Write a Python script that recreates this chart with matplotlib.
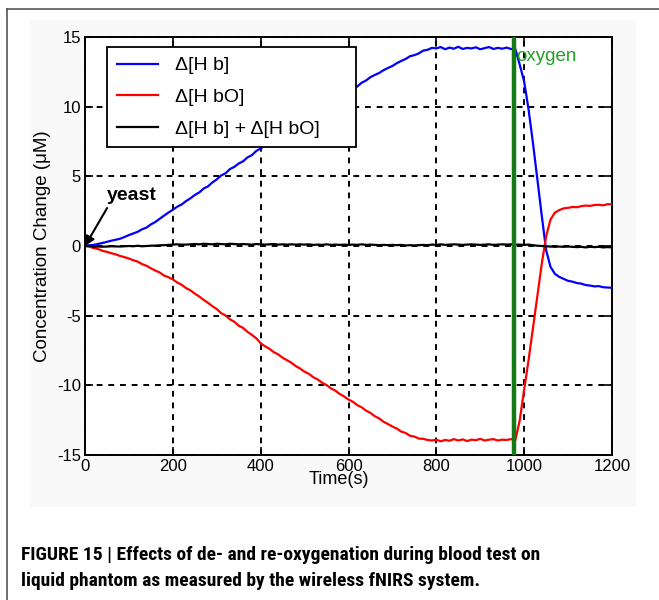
import matplotlib
matplotlib.use("Agg")
import matplotlib.pyplot as plt
from matplotlib.patches import Rectangle
from matplotlib.lines import Line2D

plt.rcParams['font.family'] = ['Liberation Sans', 'DejaVu Sans']
plt.rcParams['axes.unicode_minus'] = False

# ---------------- data ----------------
time_s = list(range(0, 1201, 10))

hb = [0.0, 0.05, 0.08, 0.15, 0.22, 0.3, 0.38, 0.45, 0.52, 0.65,
      0.78, 0.9, 1.02, 1.2, 1.32, 1.55, 1.72, 1.95, 2.18, 2.4,
      2.6, 2.82, 2.98, 3.22, 3.42, 3.66, 3.84, 4.12, 4.28, 4.56,
      4.78, 5.06, 5.22, 5.52, 5.68, 5.92, 6.08, 6.36, 6.52, 6.82,
      7.0, 7.22, 7.38, 7.62, 7.78, 8.02, 8.18, 8.42, 8.58, 8.82,
      9.0, 9.22, 9.38, 9.62, 9.78, 10.02, 10.18, 10.42, 10.58, 10.82,
      11.0, 11.22, 11.45, 11.72, 11.88, 12.12, 12.28, 12.42, 12.62, 12.78,
      12.92, 13.12, 13.28, 13.42, 13.62, 13.7, 13.82, 14.02, 14.08, 14.22,
      14.18, 14.28, 14.12, 14.24, 14.16, 14.3, 14.14, 14.22, 14.18, 14.26,
      14.12, 14.2, 14.28, 14.14, 14.22, 14.16, 14.24, 14.14, 14.12, 13.0,
      11.8, 9.8, 7.4, 4.8, 2.2, -0.3, -1.5, -2.0, -2.22, -2.36,
      -2.5, -2.56, -2.66, -2.7, -2.8, -2.84, -2.9, -2.88, -2.96, -2.98,
      -3.0]

hbo = [0.0, -0.05, -0.15, -0.22, -0.35, -0.42, -0.52, -0.6, -0.72, -0.8,
       -0.9, -1.02, -1.12, -1.3, -1.42, -1.6, -1.76, -1.9, -2.12, -2.24,
       -2.4, -2.62, -2.78, -3.02, -3.18, -3.42, -3.62, -3.86, -4.08, -4.32,
       -4.52, -4.82, -4.98, -5.26, -5.44, -5.72, -5.88, -6.16, -6.38, -6.62,
       -6.98, -7.2, -7.38, -7.62, -7.78, -8.02, -8.2, -8.38, -8.62, -8.8,
       -9.02, -9.18, -9.42, -9.58, -9.82, -9.98, -10.22, -10.38, -10.62, -10.8,
       -11.02, -11.18, -11.42, -11.58, -11.82, -11.98, -12.22, -12.38, -12.62, -12.78,
       -12.96, -13.1, -13.32, -13.42, -13.62, -13.68, -13.82, -13.84, -13.92, -13.96,
       -13.9, -14.02, -13.92, -13.98, -13.86, -13.96, -13.88, -14.0, -13.9, -13.94,
       -13.84, -13.96, -13.9, -13.86, -13.96, -13.9, -13.92, -13.86, -13.92, -12.5,
       -10.3, -8.2, -5.9, -3.6, -1.3, 0.7, 1.9, 2.4, 2.58, 2.7,
       2.74, 2.8, 2.78, 2.86, 2.9, 2.88, 2.94, 2.96, 2.92, 3.0,
       3.0]

hb_plus_hbo = [0.0, 0.0, -0.05, -0.04, -0.05, -0.04, -0.02, -0.03, -0.04, -0.02,
               0.0, -0.02, 0.02, -0.02, 0.0, 0.02, 0.03, 0.05, 0.06, 0.08,
               0.1, 0.12, 0.1, 0.1, 0.12, 0.14, 0.12, 0.16, 0.14, 0.12,
               0.16, 0.14, 0.12, 0.16, 0.14, 0.12, 0.14, 0.12, 0.1, 0.14,
               0.12, 0.1, 0.12, 0.14, 0.1, 0.12, 0.1, 0.12, 0.1, 0.12,
               0.1, 0.12, 0.08, 0.1, 0.08, 0.12, 0.08, 0.1, 0.08, 0.1,
               0.08, 0.1, 0.08, 0.12, 0.08, 0.1, 0.08, 0.06, 0.08, 0.06,
               0.08, 0.06, 0.08, 0.04, 0.06, 0.04, 0.06, 0.08, 0.06, 0.1,
               0.08, 0.12, 0.08, 0.1, 0.12, 0.1, 0.08, 0.1, 0.12, 0.1,
               0.08, 0.1, 0.12, 0.08, 0.1, 0.12, 0.1, 0.12, 0.1, 0.1,
               0.08, 0.1, 0.06, 0.02, 0.0, -0.02, -0.04, -0.06, -0.04, -0.06,
               -0.04, -0.06, -0.08, -0.06, -0.1, -0.06, -0.08, -0.06, -0.1, -0.08,
               -0.1]

oxygen_time = 977
yeast_time = 0
x_ticks = [0, 200, 400, 600, 800, 1000, 1200]
y_ticks = [-15, -10, -5, 0, 5, 10, 15]
series_labels = ['Δ[H b]', 'Δ[H bO]', 'Δ[H b] + Δ[H bO]']
caption_line1 = 'FIGURE 15 | Effects of de- and re-oxygenation during blood test on'
caption_line2 = 'liquid phantom as measured by the wireless fNIRS system.'

# ---------------- figure ----------------
fig = plt.figure(figsize=(6.59, 6.00), dpi=100)
W, H = 659, 600

# outer frame (top and left edges visible)
fig.add_artist(Line2D([7 / W, 1.0], [1 - 9 / H, 1 - 9 / H], color='#555555', lw=1.2))
fig.add_artist(Line2D([7 / W, 7 / W], [0.0, 1 - 9 / H], color='#555555', lw=1.2))
# faint image background
fig.add_artist(Rectangle((30 / W, 1 - 507 / H), (636 - 30) / W, (507 - 20) / H,
                         transform=fig.transFigure, facecolor='#f9f9f9',
                         edgecolor='none', zorder=-5))

ax = fig.add_axes([85 / W, 1 - 455 / H, (612 - 85) / W, (455 - 37) / H])
ax.set_facecolor('white')

ax.plot(time_s, hb, color='#0000ff', lw=1.6, label=series_labels[0], zorder=3)
ax.plot(time_s, hbo, color='#ff0000', lw=1.6, label=series_labels[1], zorder=3)
ax.plot(time_s, hb_plus_hbo, color='black', lw=1.6, label=series_labels[2], zorder=3)
ax.axvline(oxygen_time, color='#157a15', lw=3.2, zorder=4)

ax.set_xlim(0, 1200)
ax.set_ylim(-15, 15)
ax.set_xticks(x_ticks)
ax.set_yticks(y_ticks)
ax.tick_params(direction='in', length=6, width=1.2, top=True, right=True,
               labelsize=12, pad=3)
for s in ax.spines.values():
    s.set_linewidth(1.4)
ax.grid(True, color='black', linestyle=(0, (3, 3)), lw=1.4)

ax.set_xlabel('Time(s)', fontsize=13)
ax.xaxis.set_label_coords(0.482, -0.038)
ax.set_ylabel('Concentration Change (μM)', fontsize=13.5, labelpad=4)

leg = ax.legend(loc='upper left', bbox_to_anchor=(0.042, 0.976, 0.472, 0.0),
                mode='expand', fontsize=14,
                frameon=True, fancybox=False, edgecolor='black', framealpha=1,
                handlelength=2.1, borderpad=0.5, labelspacing=0.72,
                handletextpad=0.9, borderaxespad=0)
leg.get_frame().set_linewidth(1.3)
leg.set_zorder(6)

ax.annotate('yeast', xy=(yeast_time, 0), xytext=(50, 3.3), fontsize=14,
            fontweight='bold', color='black', zorder=7, ha='left',
            arrowprops=dict(arrowstyle='-|>', color='black', lw=1.5,
                            mutation_scale=14, shrinkA=1, shrinkB=0,
                            relpos=(0.05, 0.0)))
ax.text(oxygen_time + 5, 13.6, 'oxygen', color='#22a022', fontsize=13.5,
        ha='left', va='center', zorder=7)

cap_font = ['Liberation Sans Narrow', 'DejaVu Sans Condensed', 'Roboto Condensed',
            'Liberation Sans']
fig.text(21 / W, 1 - 555 / H, caption_line1, fontsize=14, fontweight='bold',
         family=cap_font, ha='left', va='center')
fig.text(21 / W, 1 - 581 / H, caption_line2, fontsize=14, fontweight='bold',
         family=cap_font, ha='left', va='center')

fig.savefig('out.png', dpi=100)
